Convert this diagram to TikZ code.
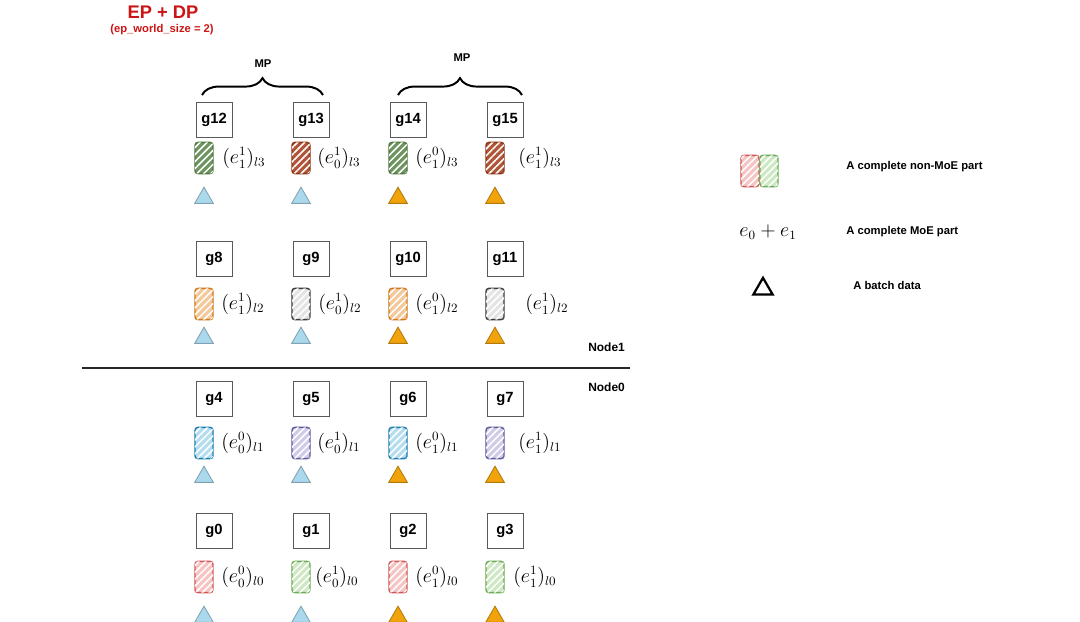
\documentclass[tikz,border=0pt]{standalone}
\usepackage{fontspec}
\setsansfont{Liberation Sans}
\usepackage{tikz}
\usetikzlibrary{positioning, shapes.geometric, decorations.pathreplacing, patterns.meta}

\definecolor{titlered}{HTML}{CC1414}
\definecolor{grnD}{HTML}{4F7A3F}\definecolor{grnF}{HTML}{6E9460}
\definecolor{brnD}{HTML}{8F3515}\definecolor{brnF}{HTML}{B0553A}
\definecolor{orgD}{HTML}{D07A1E}\definecolor{orgF}{HTML}{F5C899}
\definecolor{gryD}{HTML}{3A3A3A}\definecolor{gryF}{HTML}{E4E4E4}
\definecolor{bluD}{HTML}{1A7FAE}\definecolor{bluF}{HTML}{B5DDF0}
\definecolor{purD}{HTML}{5A5A9A}\definecolor{purF}{HTML}{CFCBE8}
\definecolor{redD}{HTML}{D05858}\definecolor{redF}{HTML}{F7C4C4}
\definecolor{lgrD}{HTML}{6AAA55}\definecolor{lgrF}{HTML}{CFE8C4}
\definecolor{triblue}{HTML}{AAD8EC}
\definecolor{triorange}{HTML}{F0A30A}

\begin{document}
\begin{tikzpicture}[
    x=0.025cm, y=-0.025cm,
    gpu/.style={rectangle, draw=black!65, line width=0.6pt, minimum width=0.9cm,
        minimum height=0.875cm, inner sep=0pt, font=\sffamily\bfseries\fontsize{10.5}{12}\selectfont},
    expert/.style={rectangle, rounded corners=2pt, line width=1pt, minimum width=0.45cm,
        minimum height=0.78cm, inner sep=0pt,
        postaction={pattern={Lines[angle=45, distance=3.5pt, line width=1.1pt]}, pattern color=white}},
    batch/.style={regular polygon, regular polygon sides=3, minimum size=0.54cm, inner sep=0pt, line width=0.6pt},
    elabel/.style={anchor=west, inner sep=0pt, font=\fontsize{13.5}{16}\selectfont},
    tag/.style={font=\sffamily\bfseries\fontsize{8}{10}\selectfont, inner sep=0pt},
    mpbrace/.style={decorate, decoration={brace, amplitude=12pt}, line width=1.4pt}
]
    \useasboundingbox (0,0) rectangle (1080,621);

    % Title
    \node[font=\sffamily\bfseries\fontsize{13}{15}\selectfont, text=titlered] (title) at (163,12) {EP + DP};
    \node[font=\sffamily\bfseries\fontsize{8}{9}\selectfont, text=titlered] (subtitle) at (162,30) {(ep\_world\_size = 2)};

    % GPUs, experts and batches: id/column/row/draw/fill/sup/sub/label x
    \foreach \n/\c/\r/\dc/\fc/\sp/\sb/\lx in {
        12/0/0/grnD/grnF/1/1/222, 13/1/0/brnD/brnF/1/0/317, 14/2/0/grnD/grnF/0/1/415, 15/3/0/brnD/brnF/1/1/518,
        8/0/1/orgD/orgF/1/1/221,  9/1/1/gryD/gryF/1/0/318,  10/2/1/orgD/orgF/0/1/415, 11/3/1/gryD/gryF/1/1/525,
        4/0/2/bluD/bluF/0/0/221,  5/1/2/purD/purF/1/0/317,  6/2/2/bluD/bluF/0/1/415,  7/3/2/purD/purF/1/1/518,
        0/0/3/redD/redF/0/0/221,  1/1/3/lgrD/lgrF/1/0/315,  2/2/3/redD/redF/0/1/415,  3/3/3/lgrD/lgrF/1/1/513}
    {
        \pgfmathsetmacro{\bx}{{214,311,408,505}[\c]}
        \pgfmathsetmacro{\by}{{120,259,399,531}[\r]}
        \pgfmathsetmacro{\ey}{{158,304,443,577}[\r]}
        \pgfmathsetmacro{\ty}{{198,338,477,617}[\r]}
        \pgfmathtruncatemacro{\ly}{3-\r}
        \ifnum\c<2 \def\tc{triblue}\else\def\tc{triorange}\fi
        \node[gpu] (g\n) at (\bx,\by) {g\n};
        \node[expert, draw=\dc, fill=\fc] (e\n) at (\bx-10,\ey) {};
        \node[elabel] (l\n) at (\lx,\ey) {$(e^{\sp}_{\sb})_{l\ly}$};
        \node[batch, fill=\tc, draw=\tc!75!black] (t\n) at (\bx-10,\ty) {};
    }

    % Model parallel groups
    \coordinate (mpA1) at (202,95);
    \coordinate (mpA2) at (323,95);
    \coordinate (mpB1) at (398,95);
    \coordinate (mpB2) at (522,95);
    \draw[mpbrace] (mpA1) -- (mpA2);
    \draw[mpbrace] (mpB1) -- (mpB2);
    \node[tag] (mpA) at (263,64) {MP};
    \node[tag] (mpB) at (462,58) {MP};

    % Node boundary
    \coordinate (sepL) at (82,368);
    \coordinate (sepR) at (630,368);
    \draw[line width=1.5pt, black!85] (sepL) -- (sepR);
    \node[tag, anchor=west, font=\sffamily\bfseries\fontsize{8.5}{10}\selectfont] (node1) at (588,347) {Node1};
    \node[tag, anchor=west, font=\sffamily\bfseries\fontsize{8.5}{10}\selectfont] (node0) at (588,387) {Node0};

    % Legend
    \node[expert, draw=redD, fill=redF] (legR) at (750,171) {};
    \node[expert, draw=lgrD, fill=lgrF] (legG) at (769,171) {};
    \node[tag, anchor=west] (legA) at (846,167) {A complete non-MoE part};
    \node[font=\fontsize{13.5}{16}\selectfont, inner sep=0pt] (legE) at (768,232) {$e_0 + e_1$};
    \node[tag, anchor=west] (legB) at (846,232) {A complete MoE part};
    \node[batch, draw=black, line width=1.6pt, minimum size=0.56cm] (legT) at (763,289) {};
    \node[tag, anchor=west] (legC) at (853,285) {A batch data};
\end{tikzpicture}
\end{document}
